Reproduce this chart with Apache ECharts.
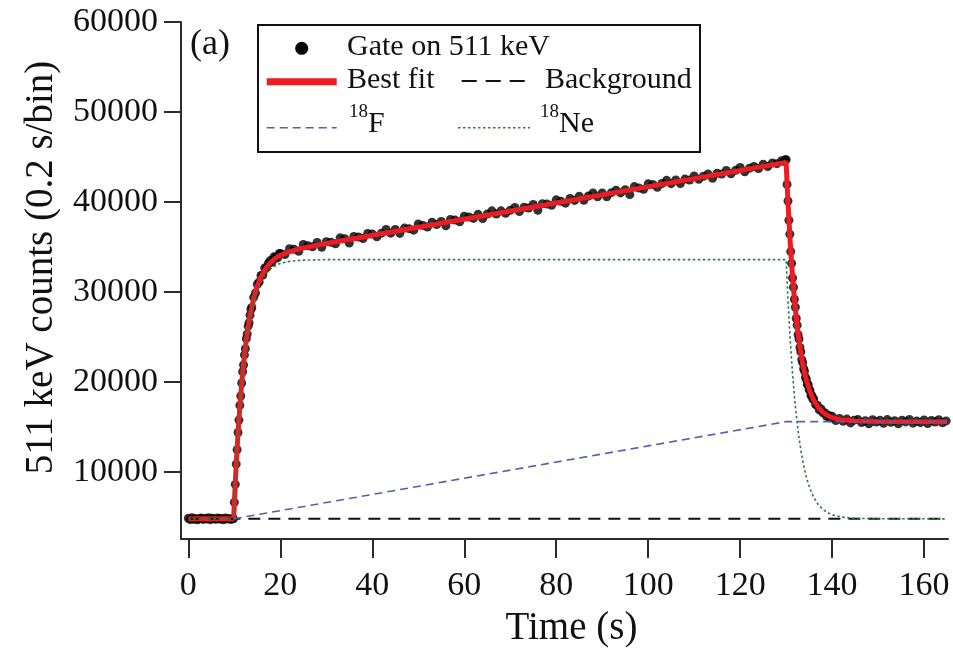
<!DOCTYPE html>
<html><head><meta charset="utf-8">
<script src="https://cdn.jsdelivr.net/npm/echarts@6/dist/echarts.min.js"></script>
<style>html,body{margin:0;padding:0;background:#fff}#c{width:953px;height:651px}</style>
</head><body><div id="c"></div>
<script>
const xTicks = [0, 20, 40, 60, 80, 100, 120, 140, 160];
const yTicks = [10000, 20000, 30000, 40000, 50000, 60000];

// measured counts, [time s, counts per 0.2 s bin]
const gateData = [
[0.0,4870],[0.4,4720],[0.8,4910],[1.2,4760],[1.6,4850],[2.0,4690],[2.4,4820],[2.8,4900],[3.2,4740],[3.6,4830],
[4.0,4780],[4.4,4930],[4.8,4710],[5.2,4860],[5.6,4800],[6.0,4750],[6.4,4890],[6.8,4770],[7.2,4840],[7.6,4700],
[8.0,4880],[8.4,4790],[8.8,4850],[9.2,4730],[9.6,4820],
[9.8,4810],[10.0,6630],[10.2,8630],[10.4,10880],[10.6,12470],[10.8,14390],[11.0,15770],[11.2,17400],[11.4,18450],
[11.6,19890],[11.8,21140],[12.0,21890],[12.2,23010],[12.4,23710],[12.6,24820],[12.8,25330],[13.0,26210],[13.2,26590],
[13.4,27420],[13.6,28060],[13.8,28290],
[14.2,29410],[14.6,29890],[15.0,30860],[15.4,31120],[15.8,31840],[16.2,31890],[16.6,32670],[17.0,32690],[17.4,33200],
[17.8,33490],[18.2,33300],[18.6,33910],[19.0,33850],[19.4,33790],[19.8,34280],
[20,34280],[21,34160],[22,34820],[23,34740],[24,34520],[25,35280],[26,35130],[27,35020],[28,35500],[29,34970],
[30,35580],[31,35530],[32,35360],[33,36020],[34,35920],[35,35440],[36,36170],[37,36110],[38,35940],[39,36510],
[40,36440],[41,36130],[42,36540],[43,36960],[44,36540],[45,36960],[46,36510],[47,37100],[48,37040],[49,36870],
[50,37560],[51,37400],[52,37230],[53,37750],[54,37500],[55,37840],[56,37360],[57,38070],[58,37990],[59,37810],
[60,38430],[61,38340],[62,38180],[63,38630],[64,38170],[65,38670],[66,39020],[67,38660],[68,39020],[69,38750],
[70,39090],[71,39400],[72,38950],[73,39420],[74,39330],[75,39720],[76,39090],[77,39820],[78,39770],[79,39630],
[80,40240],[81,40090],[82,39870],[83,40400],[84,40180],[85,40650],[86,40190],[87,40670],[88,41000],[89,40590],
[90,41000],[91,40590],[92,41040],[93,41320],[94,41010],[95,41360],[96,40820],[97,41710],[98,41550],[99,41420],
[100,42020],[101,41950],[102,41640],[103,42060],[104,42410],[105,42040],[106,42440],[107,42050],[108,42550],[109,42450],
[110,42890],[111,42520],[112,42860],[113,43110],[114,42640],[115,43200],[116,43100],[117,43500],[118,43130],[119,43520],
[120,43830],[121,43360],[122,43740],[123,43950],[124,43720],[125,44200],[126,43950],[127,44330],[128,44260],[129,44590],
[129.6,44510],[129.8,44700],
[130.0,44700],[130.2,41950],[130.4,40110],[130.6,37980],[130.8,36430],[131.0,34490],[131.2,33190],[131.4,31560],
[131.6,30530],[131.8,29180],[132.0,28310],[132.2,27060],[132.4,26320],[132.6,25260],[132.8,24780],[133.0,23840],
[133.2,23350],[133.4,22470],[133.6,22150],[133.8,21480],[134.0,21230],[134.2,20530],[134.4,20300],[134.6,19730],
[134.8,19710],[135.0,19180],[135.2,19030],[135.4,18500],[135.6,18490],[135.8,18105],[136.0,18130],[136.4,17500],
[136.8,17400],[137.2,16900],[137.6,17000],[138.0,16580],[138.4,16600],[138.8,16180],[139.2,16310],[139.6,16010],
[140.0,16200],[140.8,15730],[141.6,15960],[142.4,15640],[143.2,15880],[144.0,15460],[144.8,15760],[145.6,15830],
[146.4,15490],[147.2,15700],[148.0,15360],[148.8,15815],[149.6,15550],[150.4,15740],[151.2,15410],[152.0,15830],
[152.8,15520],[153.6,15710],[154.4,15360],[155.2,15760],[156.0,15570],[156.8,15850],[157.6,15430],[158.4,15660],
[159.2,15490],[160.0,15790],[160.8,15380],[161.6,15720],[162.4,15550],[163.2,15810],[164.0,15470],[164.8,15680]
];

const bestFit = [
[0,4800],[9.85,4800],[10.05,7105],[10.25,9223],[10.45,11181],[10.65,12979],[10.85,14657],[11.05,16195],[11.25,17603],
[11.45,18901],[11.65,20099],[11.85,21207],[12.25,23173],[12.65,24829],[13.05,26245],[13.45,27451],[13.85,28477],
[14.35,29552],[14.85,30417],[15.35,31142],[15.85,31737],[16.85,32637],[17.85,33267],[18.85,33707],[19.85,34037],
[21.85,34467],[24.85,34877],[30,35400],[130,44400],[130.2,42100],[130.4,39990],[130.6,38060],[130.8,36270],
[131,34610],[131.2,33100],[131.4,31700],[131.6,30420],[131.8,29240],[132,28160],[132.4,26240],[132.8,24610],
[133.2,23230],[133.6,22060],[134,21070],[134.5,20050],[135,19220],[135.5,18540],[136,17990],[137,17170],
[138,16640],[139,16290],[140,16050],[142,15800],[145,15660],[150,15610],[165,15600]
];

const ne18 = [
[0,4800],[9.85,4800],[10.05,7100],[10.25,9200],[10.45,11140],[10.65,12920],[10.85,14580],[11.05,16100],[11.25,17490],
[11.45,18770],[11.65,19950],[11.85,21040],[12.25,22970],[12.65,24590],[13.05,25970],[13.45,27140],[13.85,28130],
[14.35,29160],[14.85,29980],[15.35,30660],[15.85,31210],[16.85,32020],[17.85,32560],[18.85,32910],[19.85,33150],
[21.85,33400],[24.85,33540],[30,33600],[130,33600],[130.2,31300],[130.4,29190],[130.6,27260],[130.8,25470],
[131,23810],[131.2,22300],[131.4,20900],[131.6,19620],[131.8,18440],[132,17360],[132.4,15440],[132.8,13810],
[133.2,12430],[133.6,11260],[134,10270],[134.5,9250],[135,8420],[135.5,7740],[136,7190],[137,6370],[138,5840],
[139,5490],[140,5250],[142,5000],[145,4860],[150,4810],[165,4800]
];

const f18 = [[9.85,4800],[130,15600],[165,15600]];
const background = [[0,4800],[165,4800]];

const FONT = '"Liberation Serif","Times New Roman",serif';
const chart = echarts.init(document.getElementById('c'), null, {renderer:'canvas'});

const axisCol = '#2b2b2b';
chart.setOption({
  animation:false,
  backgroundColor:'#fff',
  grid:{left:181, right:5, top:22, bottom:112, outerBoundsMode:'none', containLabel:false},
  xAxis:{
    type:'value', min:-1.6, max:165.2,
    name:'Time (s)', nameLocation:'middle', nameGap:70,
    nameTextStyle:{fontFamily:FONT, fontSize:39, color:'#111', padding:[0,0,0,14]},
    axisLine:{show:true, onZero:false, lineStyle:{color:axisCol, width:2}},
    axisTick:{show:true, inside:false, length:19, customValues:xTicks, lineStyle:{color:axisCol, width:2}},
    axisLabel:{show:true, customValues:xTicks, margin:30, fontFamily:FONT, fontSize:34, color:'#111',
      formatter:(v)=>String(v)},
    splitLine:{show:false}
  },
  yAxis:{
    type:'value', min:2560, max:60000,
    name:'511 keV counts (0.2 s/bin)', nameLocation:'middle', nameGap:120, nameRotate:90,
    nameTextStyle:{fontFamily:FONT, fontSize:39, color:'#111', padding:[0,0,0,26]},
    axisLine:{show:true, onZero:false, lineStyle:{color:axisCol, width:2}},
    axisTick:{show:true, inside:false, length:17, customValues:yTicks, lineStyle:{color:axisCol, width:2}},
    axisLabel:{show:true, customValues:yTicks, margin:23, fontFamily:FONT, fontSize:34, color:'#111',
      formatter:(v)=>String(v)},
    splitLine:{show:false}
  },
  series:[
    {type:'scatter', name:'Gate on 511 keV', data:gateData, symbol:'circle', symbolSize:9,
     itemStyle:{color:'#000'}, z:2, silent:true},
    {type:'line', name:'Best fit', data:bestFit, symbol:'none', lineStyle:{color:'#ec1c24', width:5}, z:3, silent:true},
    {type:'line', name:'Background', data:background, symbol:'none', lineStyle:{color:'#111', width:2, type:[12,8]}, z:4, silent:true},
    {type:'line', name:'18F', data:f18, symbol:'none', lineStyle:{color:'#5560b4', width:1.6, type:[8,5]}, z:4, silent:true},
    {type:'line', name:'18Ne', data:ne18, symbol:'none', lineStyle:{color:'#2f7a3e', width:1.6, type:[2.5,2.5]}, z:5, silent:true}
  ],
  graphic:[
    {type:'text', left:190, top:27, style:{text:'(a)', font:'36px '+FONT, fill:'#111'}},
    {type:'rect', shape:{x:258, y:25, width:442, height:127}, style:{fill:'#fff', stroke:'#111', lineWidth:2}, z:10},
    {type:'circle', shape:{cx:301.7, cy:48.3, r:6.5}, style:{fill:'#000'}, z:11},
    {type:'text', x:347, y:47, style:{text:'Gate on 511 keV', font:'30px '+FONT, fill:'#111', textVerticalAlign:'middle'}, z:11},
    {type:'line', shape:{x1:266.7, y1:81.7, x2:336.7, y2:81.7}, style:{stroke:'#ec1c24', lineWidth:7}, z:11},
    {type:'text', x:347, y:80, style:{text:'Best fit', font:'30px '+FONT, fill:'#111', textVerticalAlign:'middle'}, z:11},
    {type:'line', shape:{x1:461.7, y1:81, x2:533.3, y2:81}, style:{stroke:'#111', lineWidth:2, lineDash:[15,9]}, z:11},
    {type:'text', x:545, y:80, style:{text:'Background', font:'30px '+FONT, fill:'#111', textVerticalAlign:'middle'}, z:11},
    {type:'line', shape:{x1:266.7, y1:127.7, x2:336.7, y2:127.7}, style:{stroke:'#5560b4', lineWidth:1.6, lineDash:[8,5]}, z:11},
    {type:'text', x:349, y:103, style:{text:'{s|18}{n|F}', fill:'#111', font:'30px '+FONT,
      rich:{s:{fontSize:19, fontFamily:FONT, verticalAlign:'top', fill:'#111'}, n:{fontSize:30, fontFamily:FONT, fill:'#111', padding:[6,0,0,0]}}}, z:11},
    {type:'line', shape:{x1:458, y1:127.7, x2:530, y2:127.7}, style:{stroke:'#2f7a3e', lineWidth:1.6, lineDash:[2.5,2.5]}, z:11},
    {type:'text', x:540, y:103, style:{text:'{s|18}{n|Ne}', fill:'#111', font:'30px '+FONT,
      rich:{s:{fontSize:19, fontFamily:FONT, verticalAlign:'top', fill:'#111'}, n:{fontSize:30, fontFamily:FONT, fill:'#111', padding:[6,0,0,0]}}}, z:11}
  ]
});
</script></body></html>
